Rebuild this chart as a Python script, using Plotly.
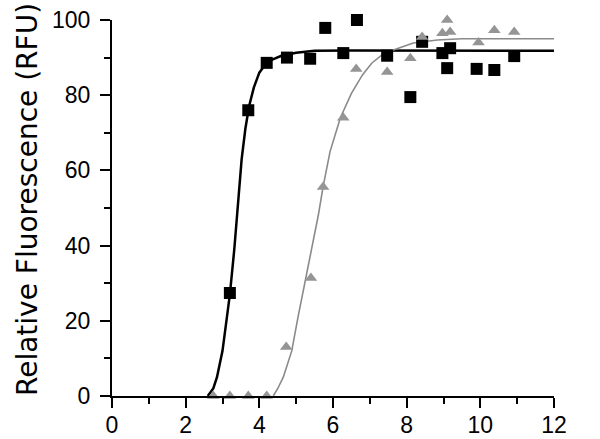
import plotly.graph_objects as go

# Data
sq_x = [3.2, 3.7, 4.2, 4.75, 5.38, 5.79, 6.28, 6.65, 7.47, 8.1, 8.42, 8.97, 9.1, 9.18, 9.9, 10.38, 10.92]
sq_y = [27.4, 76, 88.6, 90, 89.7, 97.9, 91.2, 100, 90.5, 79.5, 94.2, 91.2, 87.2, 92.5, 87, 86.7, 90.4]

tri_x = [2.75, 3.2, 3.7, 4.2, 4.73, 5.4, 5.73, 6.28, 6.63, 7.47, 8.1, 8.42, 8.97, 9.1, 9.18, 9.95, 10.38, 10.92]
tri_y = [0, 0, 0, 0, 13, 31.4, 55.6, 74, 87, 86.2, 89.8, 95.5, 96.5, 100, 96.8, 94, 97.3, 96.8]

fit1_x = [2.6, 2.75, 2.85, 3.0, 3.12, 3.2, 3.32, 3.42, 3.52, 3.62, 3.72, 3.85, 4.0, 4.15, 4.35, 4.6, 5.0, 5.5, 6.5, 12]
fit1_y = [0, 2, 5, 12, 21, 27, 39, 52, 63, 71, 77, 82, 86, 88, 89.5, 90.5, 91.3, 91.8, 91.9, 91.8]

fit2_x = [4.38, 4.5, 4.65, 4.88, 5.05, 5.24, 5.43, 5.6, 5.73, 5.92, 6.2, 6.5, 6.8, 7.05, 7.33, 7.64, 8.18, 8.83, 9.5, 12]
fit2_y = [0, 2, 5, 12, 21, 30, 39, 48, 55.6, 65, 74, 80.5, 85.4, 88.5, 90.7, 92, 93.9, 94.7, 95, 95]

x_ticks = [0, 2, 4, 6, 8, 10, 12]
y_ticks = [0, 20, 40, 60, 80, 100]
y_title = "Relative Fluorescence (RFU)"

fig = go.Figure()
fig.add_trace(go.Scatter(x=fit1_x, y=fit1_y, mode="lines",
                         line=dict(color="black", width=2.5), cliponaxis=False))
fig.add_trace(go.Scatter(x=fit2_x, y=fit2_y, mode="lines",
                         line=dict(color="#8a8a8a", width=1.6), cliponaxis=False))
fig.add_trace(go.Scatter(x=sq_x, y=sq_y, mode="markers", cliponaxis=False,
                         marker=dict(symbol="square", size=12, color="black")))
fig.add_trace(go.Scatter(x=tri_x, y=tri_y, mode="markers", cliponaxis=False,
                         marker=dict(symbol="triangle-up", size=11, color="#959595")))

axis_common = dict(showline=True, linecolor="black", linewidth=2, showgrid=False,
                   zeroline=False, ticks="outside", ticklen=10, tickwidth=2,
                   tickcolor="black", automargin=False, ticklabeloverflow="allow",
                   tickfont=dict(family="Liberation Sans, Arial", size=23, color="black"))

fig.update_xaxes(range=[0, 12], tickvals=x_ticks, ticktext=[str(v) for v in x_ticks],
                 minor=dict(ticks="outside", ticklen=6, tickwidth=2, tickcolor="black", dtick=1),
                 ticklabelstandoff=-3,
                 **axis_common)
fig.update_yaxes(range=[0, 100], tickvals=y_ticks, ticktext=[str(v) for v in y_ticks],
                 minor=dict(ticks="outside", ticklen=6, tickwidth=2, tickcolor="black", dtick=10),
                 ticklabelstandoff=5,
                 **axis_common)

fig.add_annotation(text=y_title, textangle=-90, showarrow=False,
                   xref="paper", yref="paper", x=0, y=0.5,
                   xanchor="center", yanchor="middle", xshift=-85, yshift=8,
                   font=dict(family="DejaVu Sans", size=28, color="black"))

fig.update_layout(width=600, height=439, margin=dict(l=112, r=46, t=20, b=43),
                  plot_bgcolor="white", paper_bgcolor="white", showlegend=False,
                  hovermode=False)

fig.write_html("out.html", config={"displayModeBar": False, "staticPlot": True},
               post_script="document.body.style.margin='0';document.body.style.overflow='hidden';")
